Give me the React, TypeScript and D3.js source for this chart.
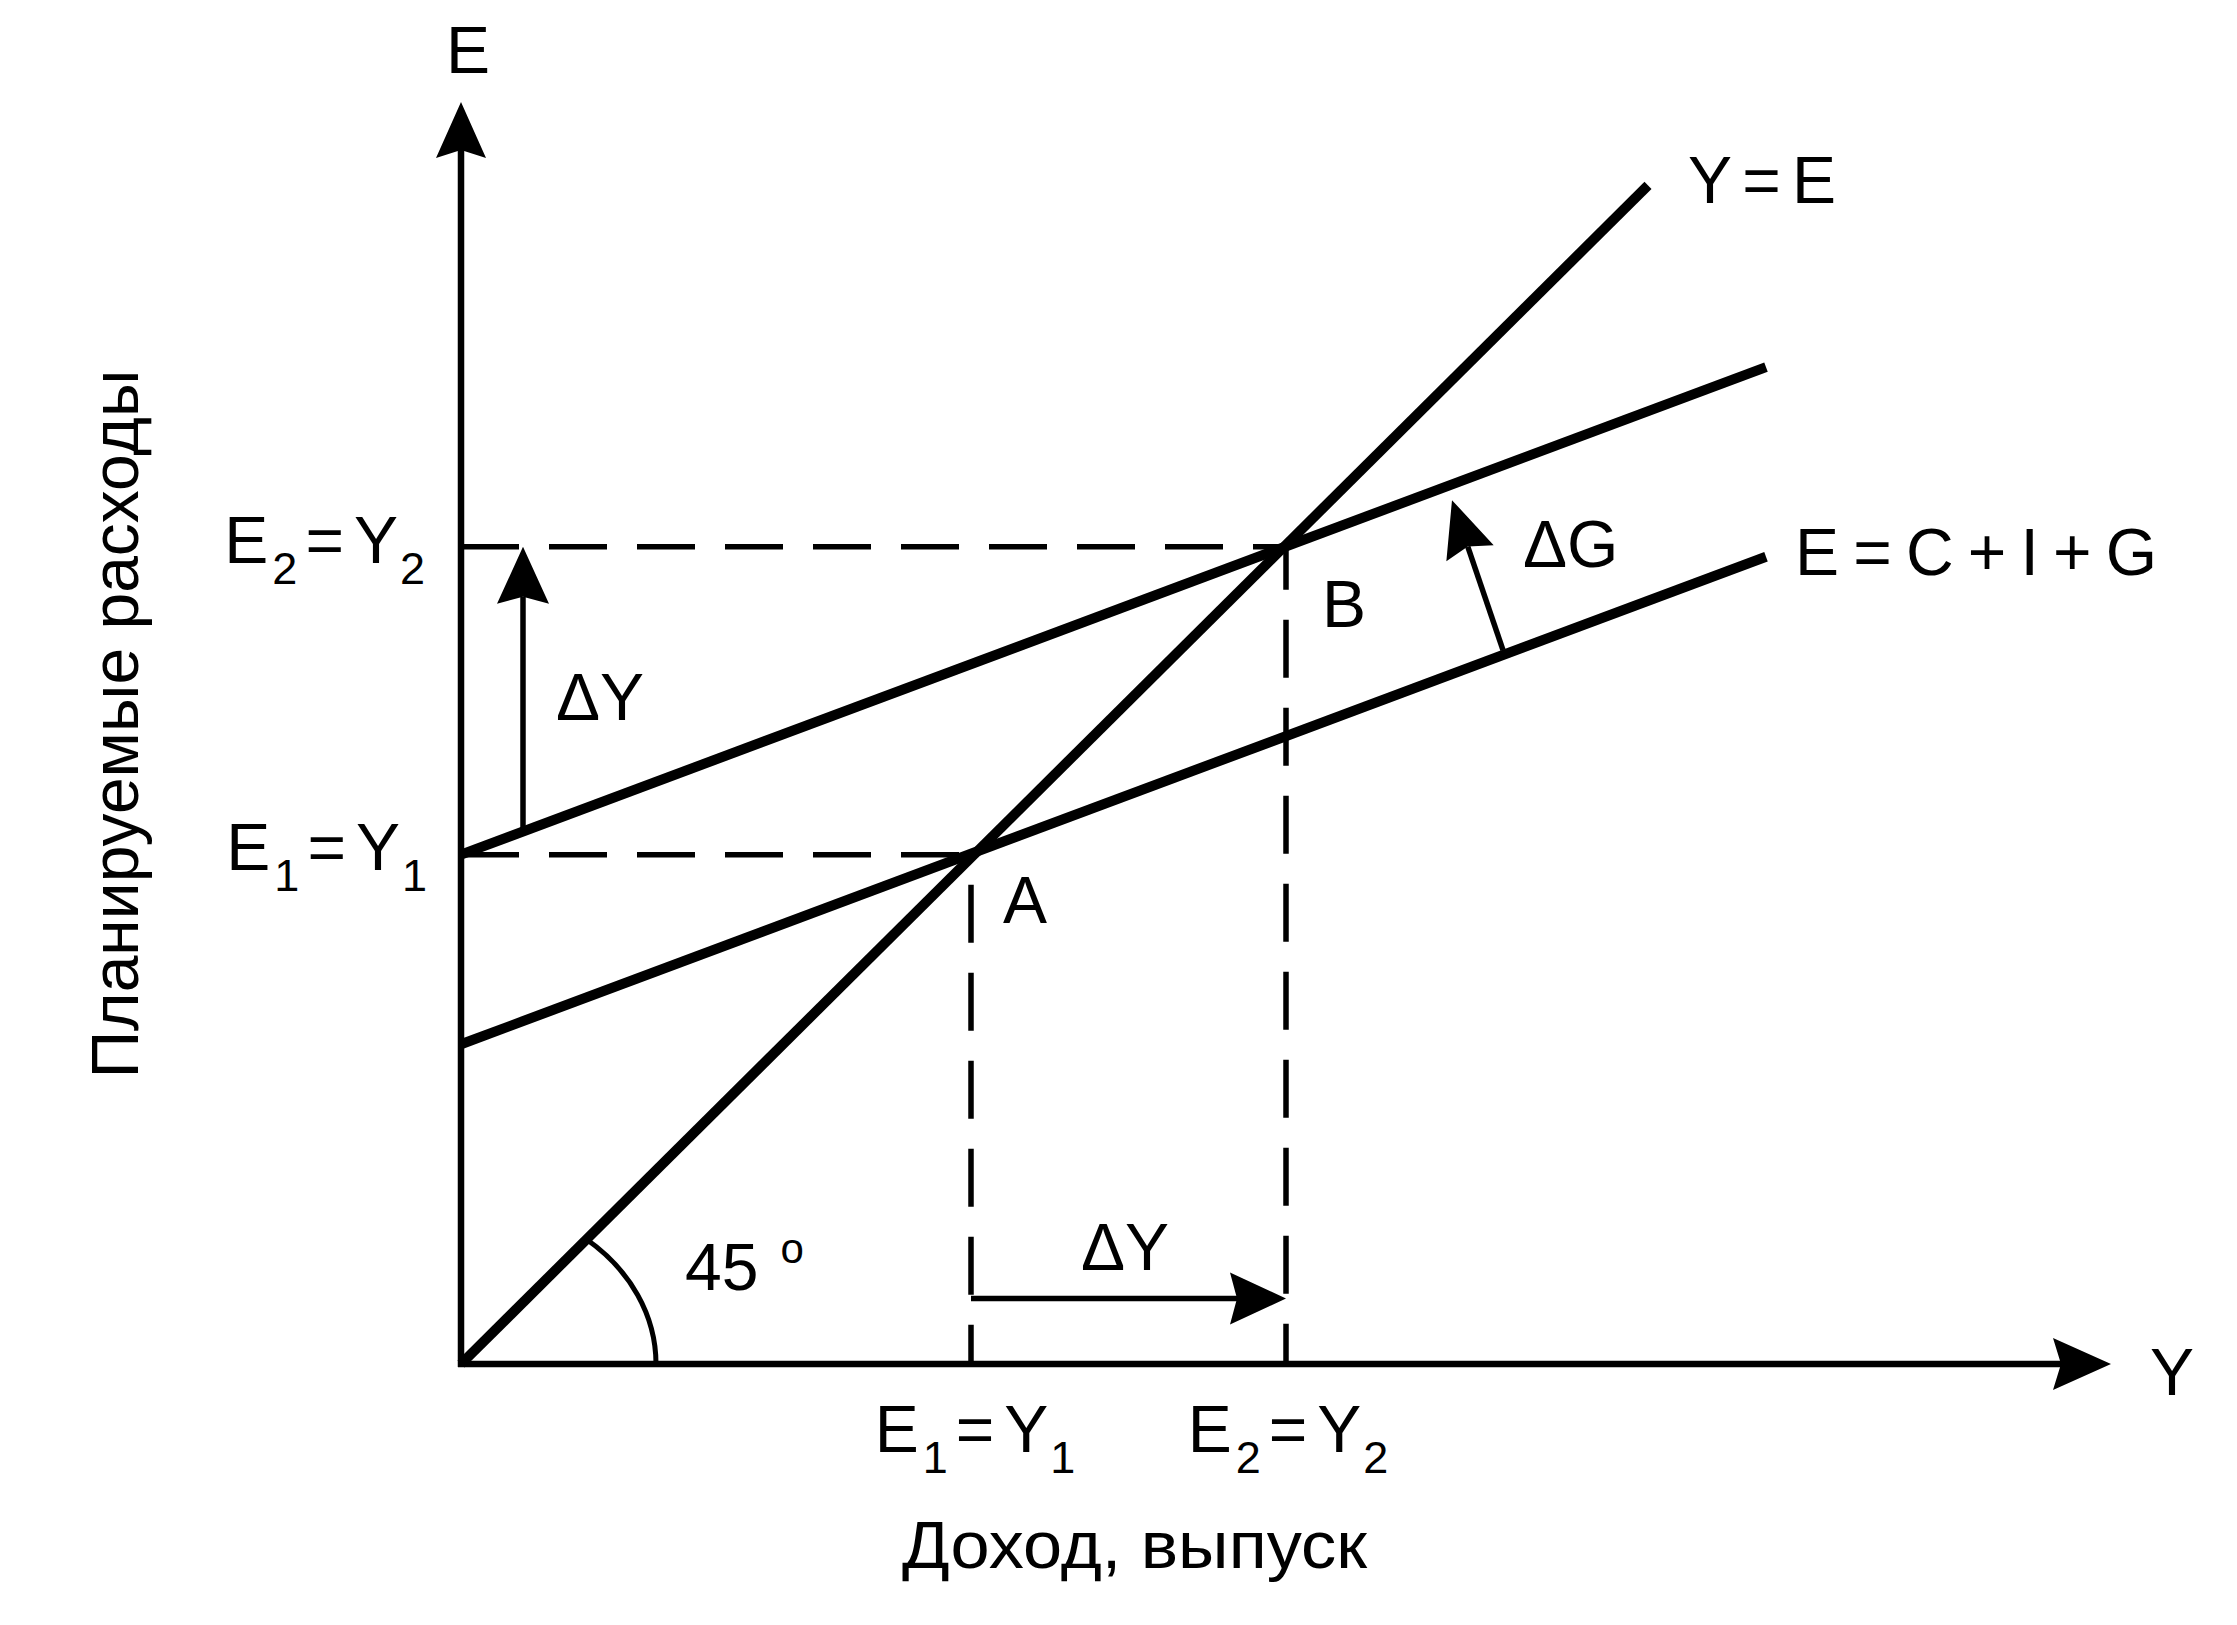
import React, { useEffect } from "react";
import * as d3 from "d3";

const W = 2237;
const H = 1625;

// ---- data (model units: x = income / output Y, y = planned expenditure E) ----
const xDomain = [0, 165];
const yDomain = [0, 127.1];
const lineYE: [number, number][] = [[0, 0], [118.7, 118.7]];
const lineE1: [number, number][] = [[0, 32.2], [130.5, 81.3]];
const lineE2: [number, number][] = [[0, 51.3], [130.5, 100.4]];
const equilibriumY = [51.0, 82.5];
const equilibriumE = [51.3, 82.3];
const pointNames = ["A", "B"];
const subscripts = ["1", "2"];
const deltaGArrow: [number, number][] = [[104.2, 71.9], [99.1, 87.0]];
const deltaYVertical: [number, number][] = [[6.2, 53.6], [6.2, 82.3]];
const deltaYHorizontal: [number, number][] = [[51.0, 6.6], [82.5, 6.6]];
const axisTitleX = "Доход, выпуск";
const axisTitleY = "Планируемые расходы";
const lineLabels = ["Y = E", "E = C + I + G"];

const FONT = "'Liberation Sans', Arial, Helvetica, sans-serif";
const FS = 66;
const SUB = 45;

function arrowHead(
  tip: [number, number],
  from: [number, number],
  len: number,
  half: number,
  notch: number
) {
  const dx = tip[0] - from[0];
  const dy = tip[1] - from[1];
  const L = Math.hypot(dx, dy);
  const ux = dx / L, uy = dy / L;
  const px = -uy, py = ux;
  const bx = tip[0] - ux * len, by = tip[1] - uy * len;
  const nx = tip[0] - ux * (len - notch), ny = tip[1] - uy * (len - notch);
  const p = d3.path();
  p.moveTo(tip[0], tip[1]);
  p.lineTo(bx + px * half, by + py * half);
  p.lineTo(nx, ny);
  p.lineTo(bx - px * half, by - py * half);
  p.closePath();
  return { d: p.toString(), shaftEnd: [nx, ny] as [number, number] };
}

function EqLabel({ x, y, i, anchor }: { x: number; y: number; i: number; anchor: string }) {
  return (
    <text x={x} y={y} textAnchor={anchor} fontFamily={FONT} fontSize={FS} fill="#000">
      E
      <tspan fontSize={SUB} dy={21} dx={4}>{subscripts[i]}</tspan>
      <tspan dy={-21} dx={8}>=</tspan>
      <tspan dx={10}>Y</tspan>
      <tspan fontSize={SUB} dy={21} dx={2}>{subscripts[i]}</tspan>
    </text>
  );
}

export default function App() {
  useEffect(() => {
    document.body.style.margin = "0";
  }, []);

  const x = d3.scaleLinear().domain(xDomain).range([461, 2111]);
  const y = d3.scaleLinear().domain(yDomain).range([1364, 102]);
  const line = d3
    .line<[number, number]>()
    .x((d) => x(d[0]))
    .y((d) => y(d[1]));

  const ox = x(0), oy = y(0);

  // axis arrows
  const yTip: [number, number] = [x(0), y(yDomain[1])];
  const yHead = arrowHead(yTip, [ox, oy], 56, 25, 8);
  const xTip: [number, number] = [x(xDomain[1]), y(0)];
  const xHead = arrowHead(xTip, [ox, oy], 58, 26, 8);

  // annotation arrows
  const arrowPx = (a: [number, number][]) =>
    [[x(a[0][0]), y(a[0][1])], [x(a[1][0]), y(a[1][1])]] as [number, number][];
  const gA = arrowPx(deltaGArrow);
  const gHead = arrowHead(gA[1], gA[0], 56, 25, 7);
  const vA = arrowPx(deltaYVertical);
  const vHead = arrowHead(vA[1], vA[0], 57, 26, 7);
  const hA = arrowPx(deltaYHorizontal);
  const hHead = arrowHead(hA[1], hA[0], 56, 26, 7);

  // 45 degree arc (elliptical, hand drawn look)
  const rx = 195, ry = 163;
  const t = 1 / Math.sqrt(1 / (rx * rx) + 1 / (ry * ry));
  const arcD = `M${ox + rx},${oy} A${rx},${ry} 0 0 0 ${ox + t},${oy - t}`;

  const Y1 = x(equilibriumY[0]), Y2 = x(equilibriumY[1]);
  const E1 = y(equilibriumE[0]), E2 = y(equilibriumE[1]);

  return (
    <svg
      width={W}
      height={H}
      viewBox={`0 0 ${W} ${H}`}
      style={{ display: "block", position: "absolute", left: 0, top: 0, background: "#fff" }}
    >
      <rect x={0} y={0} width={W} height={H} fill="#fff" />

      {/* dashed guide lines */}
      <g stroke="#000" strokeWidth={5.5} strokeDasharray="58 30" fill="none">
        <line x1={ox} y1={E2} x2={Y2} y2={E2} />
        <line x1={ox} y1={E1} x2={Y1} y2={E1} />
        <line x1={Y1} y1={E1} x2={Y1} y2={oy} strokeDashoffset={58} />
        <line x1={Y2} y1={E2} x2={Y2} y2={oy} strokeDashoffset={15} />
      </g>

      {/* axes */}
      <g stroke="#000" strokeWidth={6.5} fill="none">
        <line x1={ox} y1={oy + 3} x2={yHead.shaftEnd[0]} y2={yHead.shaftEnd[1]} />
        <line x1={ox - 3} y1={oy} x2={xHead.shaftEnd[0]} y2={xHead.shaftEnd[1]} />
      </g>
      <path d={yHead.d} fill="#000" />
      <path d={xHead.d} fill="#000" />

      {/* main lines */}
      <g stroke="#000" strokeWidth={10} fill="none">
        <path d={line(lineYE) || ""} />
        <path d={line(lineE1) || ""} />
        <path d={line(lineE2) || ""} />
      </g>

      {/* 45 degree arc */}
      <path d={arcD} stroke="#000" strokeWidth={5} fill="none" />

      {/* arrows */}
      <g stroke="#000" strokeWidth={5.5} fill="none">
        <line x1={gA[0][0]} y1={gA[0][1]} x2={gHead.shaftEnd[0]} y2={gHead.shaftEnd[1]} />
        <line x1={vA[0][0]} y1={vA[0][1]} x2={vHead.shaftEnd[0]} y2={vHead.shaftEnd[1]} />
        <line x1={hA[0][0]} y1={hA[0][1]} x2={hHead.shaftEnd[0]} y2={hHead.shaftEnd[1]} />
      </g>
      <path d={gHead.d} fill="#000" />
      <path d={vHead.d} fill="#000" />
      <path d={hHead.d} fill="#000" />

      {/* texts */}
      <g fontFamily={FONT} fontSize={FS} fill="#000">
        <text x={ox + 7} y={73} textAnchor="middle">E</text>
        <text x={2150} y={1395}>Y</text>
        <text x={1688} y={203} textLength={148} lengthAdjust="spacing">{lineLabels[0]}</text>
        <text x={1795} y={575} textLength={362} lengthAdjust="spacing">{lineLabels[1]}</text>
        <text x={1523} y={567}>ΔG</text>
        <text x={1322} y={627}>{pointNames[1]}</text>
        <text x={1003} y={923}>{pointNames[0]}</text>
        <text x={556} y={720}>ΔY</text>
        <text x={1081} y={1270}>ΔY</text>
        <text x={685} y={1290}>
          45
          <tspan fontSize={42} dx={22} dy={-27}>o</tspan>
        </text>
        <text x={902} y={1568} textLength={465} lengthAdjust="spacingAndGlyphs">{axisTitleX}</text>
        <text transform="translate(138,724) rotate(-90)" textAnchor="middle">{axisTitleY}</text>
      </g>

      <EqLabel x={425} y={563} i={1} anchor="end" />
      <EqLabel x={427} y={870} i={0} anchor="end" />
      <EqLabel x={Y1 + 4} y={1452} i={0} anchor="middle" />
      <EqLabel x={Y2 + 2} y={1452} i={1} anchor="middle" />
    </svg>
  );
}
